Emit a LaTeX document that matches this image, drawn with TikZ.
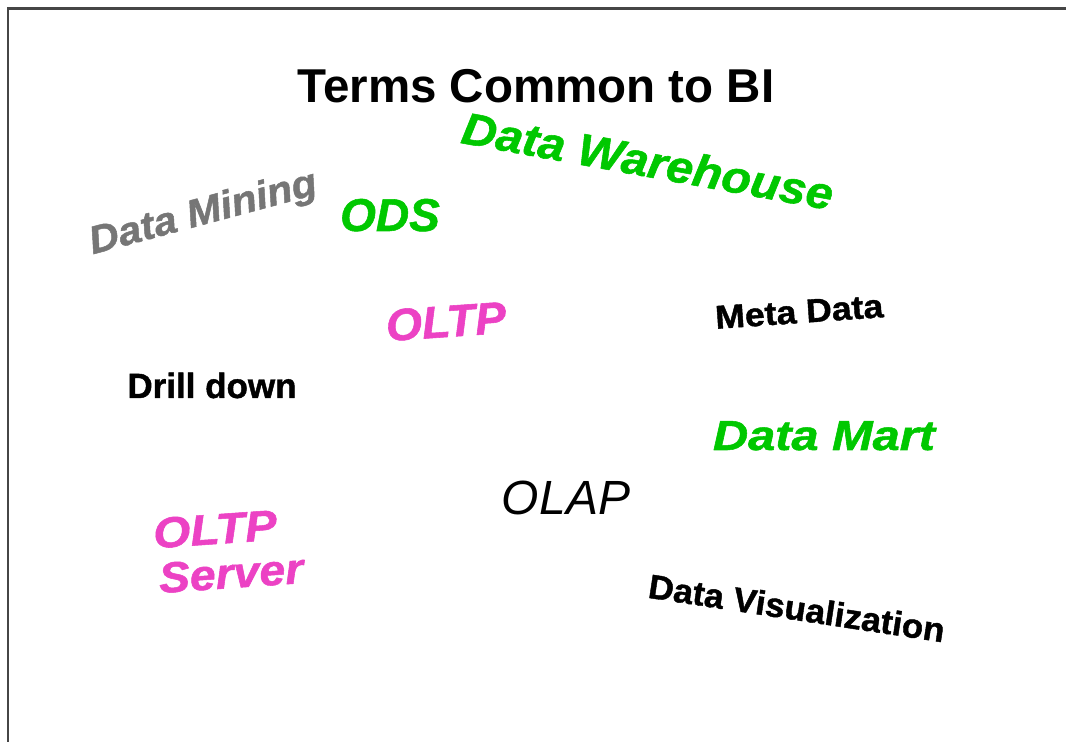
\documentclass[tikz,border=0pt]{standalone}
\usepackage{fontspec}
\setmainfont{Liberation Sans}
\usepackage{graphicx}
\definecolor{termgreen}{RGB}{0,200,0}
\definecolor{termpink}{RGB}{236,66,196}
\definecolor{termgrey}{RGB}{118,118,118}
\definecolor{framegrey}{RGB}{70,70,70}
\tikzset{lbl/.style={anchor=base, inner sep=0pt},
  heavy/.style={font=\addfontfeatures{FakeBold=1.2}}}
\newcommand\fs[1]{\fontsize{#1}{#1}\selectfont}
\newcommand\heavier{\addfontfeatures{FakeBold=1.2}}
\begin{document}
\begin{tikzpicture}[x=1pt,y=1pt]
\useasboundingbox (0,0) rectangle (1066,742);
\fill[white] (0,0) rectangle (1066,742);
% frame
\coordinate (ftr) at (1066,733.5);
\coordinate (ftl) at (8,733.5);
\coordinate (fbl) at (8,0);
\draw[framegrey, line width=2.2pt] (ftr) -- (ftl) -- (fbl);
% title
\node[lbl, font=\fs{47.5}\bfseries] (title) at (536,639) {Terms Common to BI};
% terms
\node[lbl, rotate=-10.3, font=\fs{45}\bfseries\itshape\heavier, text=termgreen] (dw) at (645,565.5)
  {\scalebox{1.07}[1]{Data Warehouse}};
\node[lbl, rotate=15, font=\fs{39}\bfseries\itshape\heavier, text=termgrey] (dm) at (206,518)
  {\scalebox{1.06}[1]{Data Mining}};
\node[lbl, font=\fs{46}\bfseries\itshape\heavier, text=termgreen] (ods) at (390,511) {ODS};
\node[lbl, rotate=4, font=\fs{45}\bfseries\itshape\heavier, text=termpink] (oltp) at (447,405)
  {\scalebox{1.03}[1]{OLTP}};
\node[lbl, rotate=4, font=\fs{33}\bfseries\heavier] (meta) at (800,419)
  {\scalebox{1.08}[1]{Meta Data}};
\node[lbl, font=\fs{35}\bfseries\heavier] (drill) at (212,344) {Drill down};
\node[lbl, font=\fs{42}\bfseries\itshape\heavier, text=termgreen] (mart) at (824,292)
  {\scalebox{1.16}[1]{Data Mart}};
\node[lbl, font=\fs{48}\itshape] (olap) at (566,227) {OLAP};
\node[lbl, rotate=4, font=\fs{43}\bfseries\itshape\heavier, text=termpink] (srv1) at (216,198)
  {\scalebox{1.11}[1]{OLTP}};
\node[lbl, rotate=4, font=\fs{43}\bfseries\itshape\heavier, text=termpink] (srv2) at (232,154)
  {\scalebox{1.08}[1]{Server}};
\node[lbl, rotate=-8.6, font=\fs{34}\bfseries\heavier] (vis) at (795,122)
  {\scalebox{1.03}[1]{Data Visualization}};
\end{tikzpicture}
\end{document}
